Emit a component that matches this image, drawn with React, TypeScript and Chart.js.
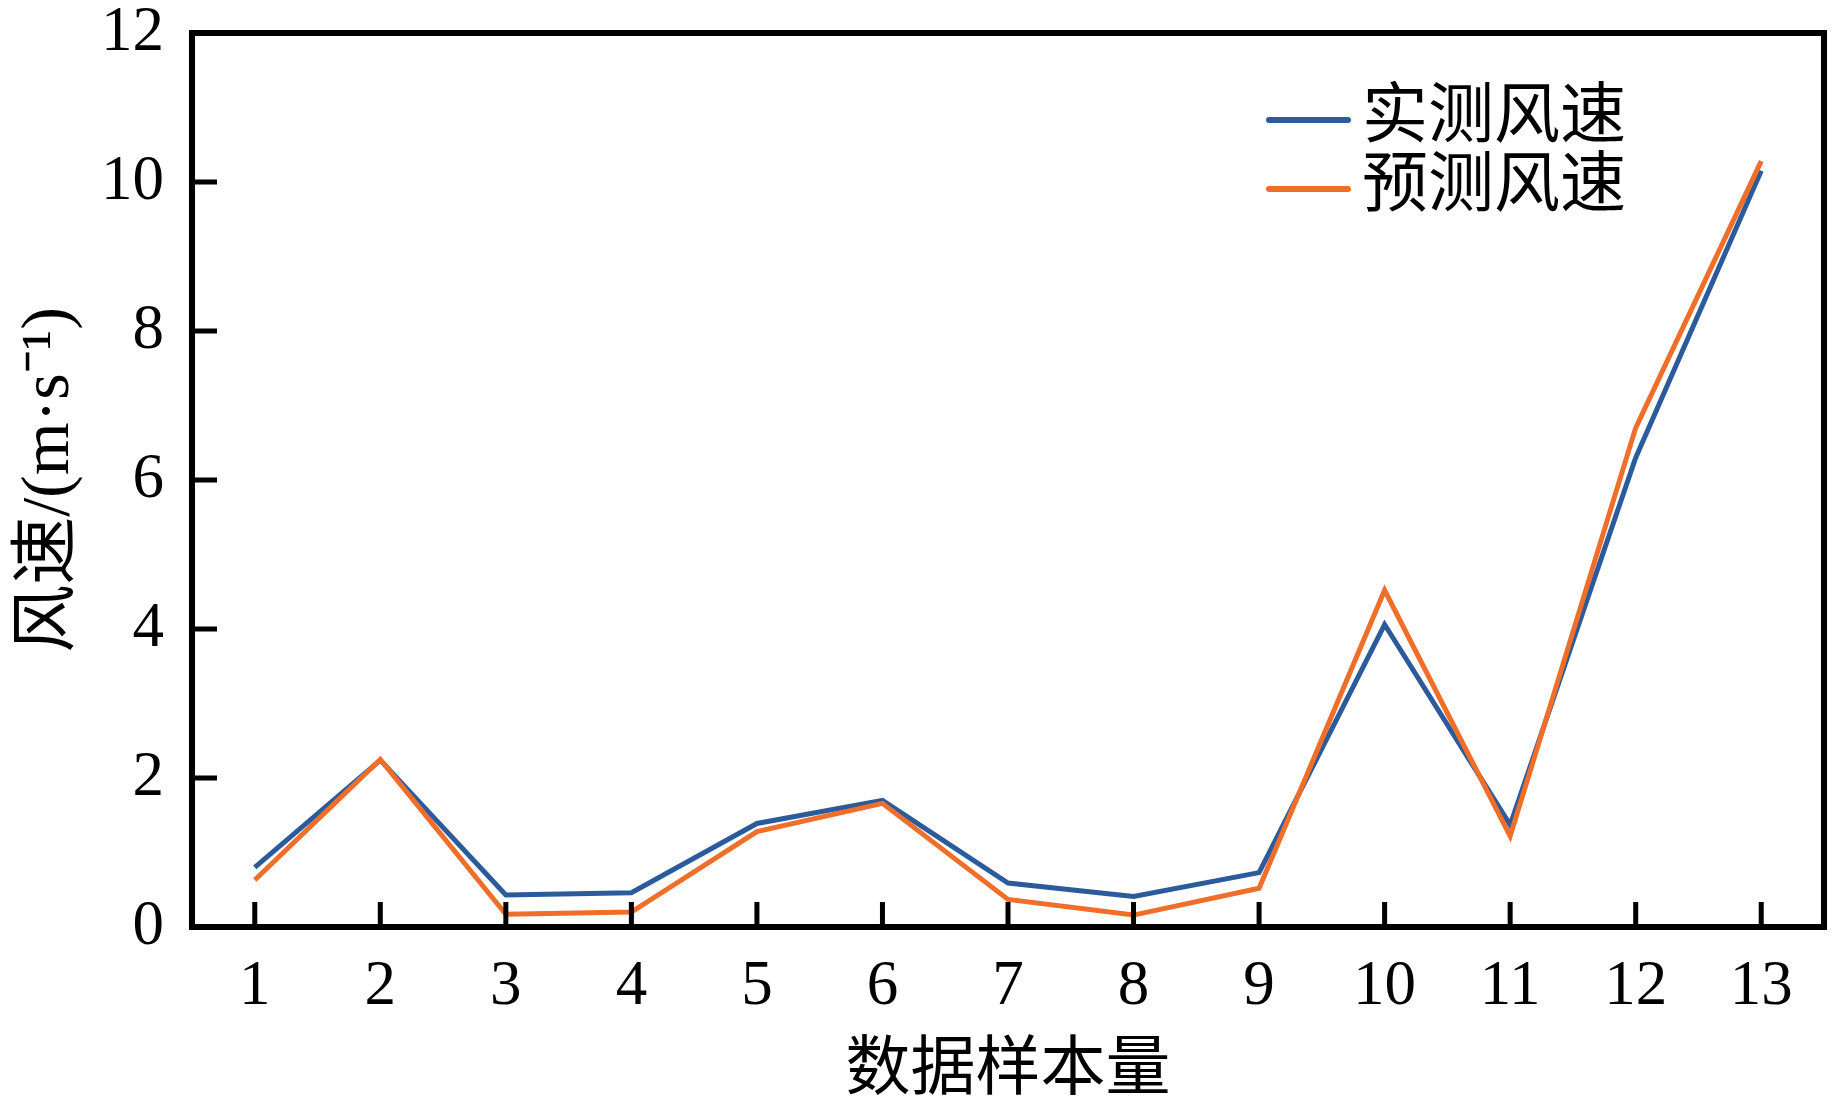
import React, { useEffect, useRef } from "react";
import { Chart, registerables } from "chart.js";

Chart.register(...registerables);

const categories = ["1", "2", "3", "4", "5", "6", "7", "8", "9", "10", "11", "12", "13"];
const measured = [0.8, 2.24, 0.43, 0.46, 1.39, 1.7, 0.59, 0.41, 0.73, 4.06, 1.37, 6.3, 10.15];
const predicted = [0.63, 2.25, 0.17, 0.2, 1.28, 1.66, 0.37, 0.16, 0.52, 4.52, 1.22, 6.7, 10.28];
const seriesNames = ["实测风速", "预测风速"];
const seriesColors = ["#2B5B9B", "#EF6E2A"];
const xTitle = "数据样本量";
const yTitle = "风速/(m·s⁻¹)";
const yMin = 0;
const yMax = 12;
const yStep = 2;

const SERIF = "'Liberation Serif', 'Times New Roman', 'Noto Sans CJK SC', serif";
const CJK = "'Liberation Serif', 'Noto Sans CJK SC', serif";

const framePlugin = {
  id: "frameTicks",
  afterDatasetsDraw(chart: any) {
    const { ctx, chartArea, scales } = chart;
    const { left, right, top, bottom } = chartArea;
    ctx.save();
    ctx.strokeStyle = "#000";
    ctx.lineWidth = 5;
    ctx.lineCap = "butt";
    const tl = 25;
    ctx.beginPath();
    scales.y.ticks.forEach((t: any) => {
      const y = scales.y.getPixelForValue(t.value);
      if (t.value === yMin || t.value === yMax) return;
      ctx.moveTo(left, y);
      ctx.lineTo(left + tl, y);
    });
    scales.x.ticks.forEach((t: any, i: number) => {
      const x = scales.x.getPixelForTick(i);
      ctx.moveTo(x, bottom);
      ctx.lineTo(x, bottom - tl);
    });
    ctx.stroke();
    ctx.lineWidth = 6;
    ctx.strokeRect(left, top, right - left, bottom - top);

    // legend
    const lx0 = 1269;
    const lx1 = 1348;
    const rows = [120, 189];
    chart.data.datasets.forEach((ds: any, i: number) => {
      ctx.strokeStyle = ds.borderColor;
      ctx.lineWidth = 6;
      ctx.lineCap = "round";
      ctx.beginPath();
      ctx.moveTo(lx0, rows[i]);
      ctx.lineTo(lx1, rows[i]);
      ctx.stroke();
      ctx.fillStyle = "#000";
      ctx.font = `66px ${CJK}`;
      ctx.textBaseline = "middle";
      ctx.textAlign = "left";
      ctx.fillText(ds.label, 1362, rows[i]);
    });
    ctx.restore();
  },
};

export default function App() {
  const ref = useRef<HTMLCanvasElement | null>(null);
  useEffect(() => {
    if (!ref.current) return;
    const chart = new Chart(ref.current, {
      type: "line",
      data: {
        labels: categories,
        datasets: [
          {
            label: seriesNames[0],
            data: measured,
            borderColor: seriesColors[0],
            backgroundColor: seriesColors[0],
            borderWidth: 5,
            pointRadius: 0,
            tension: 0,
            order: 1,
          },
          {
            label: seriesNames[1],
            data: predicted,
            borderColor: seriesColors[1],
            backgroundColor: seriesColors[1],
            borderWidth: 5,
            pointRadius: 0,
            tension: 0,
            order: 0,
          },
        ],
      },
      options: {
        animation: false,
        responsive: false,
        devicePixelRatio: 1,
        layout: { padding: { top: 33, right: 19, left: 0, bottom: 0 } },
        plugins: { legend: { display: false }, tooltip: { enabled: false } },
        scales: {
          x: {
            type: "category",
            offset: true,
            grid: { display: false, drawTicks: false },
            border: { display: false },
            ticks: {
              color: "#000",
              font: { family: SERIF, size: 63 },
              padding: 23,
              maxRotation: 0,
              autoSkip: false,
            },
            title: {
              display: true,
              text: xTitle,
              color: "#000",
              font: { family: CJK, size: 65, lineHeight: 1.1 },
              padding: { top: 0, bottom: 0 },
            },
            afterFit: (s: any) => {
              s.height = 181;
              s.paddingLeft = 0;
              s.paddingRight = 0;
            },
          },
          y: {
            min: yMin,
            max: yMax,
            grid: { display: false, drawTicks: false },
            border: { display: false },
            ticks: {
              stepSize: yStep,
              color: "#000",
              font: { family: SERIF, size: 63 },
              padding: 28,
            },
            title: {
              display: true,
              text: yTitle,
              color: "#000",
              font: { family: CJK, size: 68 },
              padding: { top: 9, bottom: 0 },
            },
            afterFit: (s: any) => {
              s.width = 192;
              s.paddingTop = 0;
              s.paddingBottom = 0;
            },
          },
        },
      },
      plugins: [framePlugin],
    });
    return () => chart.destroy();
  }, []);
  return (
    <div style={{ position: "fixed", left: 0, top: 0, width: 1843, height: 1108, background: "#fff" }}>
      <canvas ref={ref} width={1843} height={1108} style={{ display: "block", width: 1843, height: 1108 }} />
    </div>
  );
}
